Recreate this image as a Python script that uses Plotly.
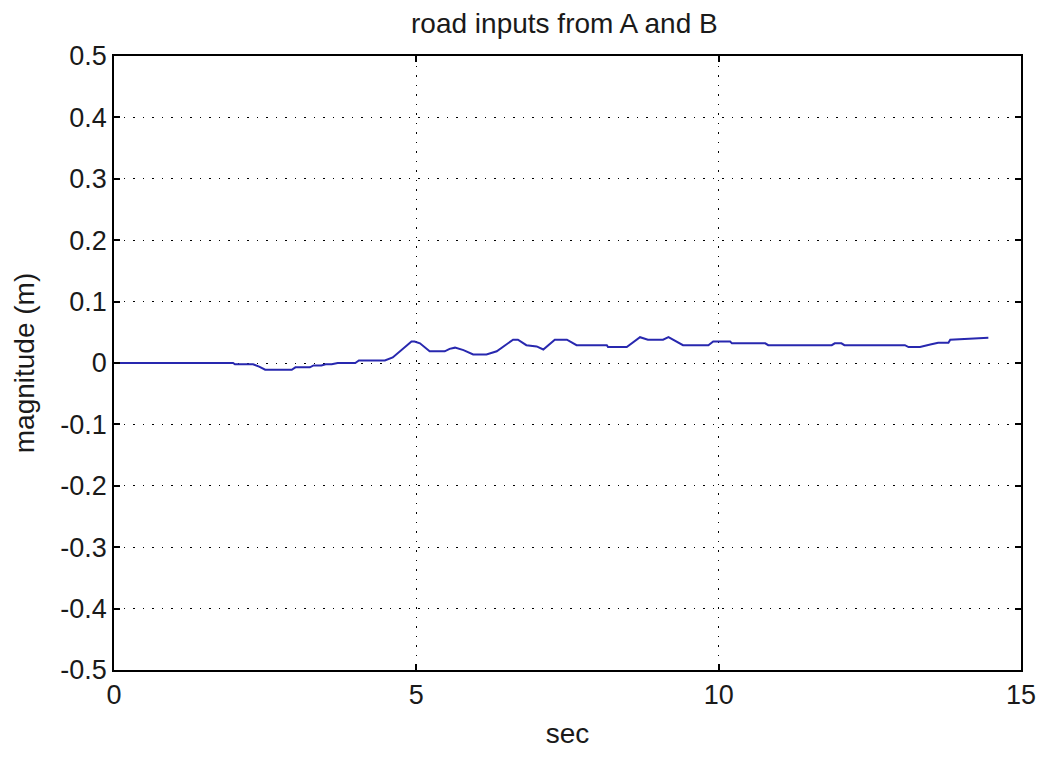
import plotly.graph_objects as go

# road input profile (time in s, vertical displacement in m)
t_sec = [0, 1.97, 2.0, 2.3, 2.4, 2.5, 2.94, 3.0, 3.24, 3.3, 3.43, 3.5, 3.6, 3.7, 3.99,
         4.05, 4.48, 4.61, 4.92, 4.97, 5.06, 5.22, 5.47, 5.55, 5.64, 5.78, 5.94, 6.16,
         6.33, 6.60, 6.68, 6.82, 6.99, 7.10, 7.29, 7.49, 7.65, 8.15, 8.17, 8.48, 8.70,
         8.83, 9.08, 9.17, 9.41, 9.83, 9.91, 10.19, 10.22, 10.77, 10.82, 11.87, 11.92,
         12.03, 12.08, 13.08, 13.14, 13.33, 13.5, 13.63, 13.80, 13.83, 14.46]
magnitude = [0, 0, -0.002, -0.002, -0.006, -0.011, -0.011, -0.007, -0.007, -0.004, -0.004,
             -0.002, -0.002, 0, 0, 0.004, 0.004, 0.009, 0.035, 0.035, 0.032, 0.019, 0.019,
             0.023, 0.025, 0.021, 0.014, 0.014, 0.019, 0.038, 0.038, 0.029, 0.027, 0.022,
             0.038, 0.038, 0.029, 0.029, 0.026, 0.026, 0.042, 0.038, 0.038, 0.042, 0.029,
             0.029, 0.035, 0.035, 0.032, 0.032, 0.029, 0.029, 0.032, 0.032, 0.029, 0.029,
             0.026, 0.026, 0.030, 0.033, 0.033, 0.038, 0.041]

x_ticks = [0, 5, 10, 15]
y_ticks = [0.5, 0.4, 0.3, 0.2, 0.1, 0, -0.1, -0.2, -0.3, -0.4, -0.5]
y_tick_text = ["0.5", "0.4", "0.3", "0.2", "0.1", "0", "-0.1", "-0.2", "-0.3", "-0.4", "-0.5"]

FONT = "Liberation Sans, Arial, sans-serif"
TEXT_COLOR = "#1a1a1a"

fig = go.Figure()
fig.add_trace(go.Scatter(x=t_sec, y=magnitude, mode="lines",
                         line=dict(color="rgb(40,40,175)", width=2),
                         showlegend=False))

axis_common = dict(
    showline=True, linecolor="black", linewidth=1.5, mirror="ticks",
    ticks="inside", ticklen=6, tickwidth=1.5, tickcolor="black",
    showgrid=True, gridcolor="black", gridwidth=1, griddash="1.5px,8px",
    zeroline=False,
    tickfont=dict(family=FONT, size=27, color=TEXT_COLOR),
)

fig.update_layout(
    width=1049, height=758,
    margin=dict(l=114, r=28, t=56, b=88),
    paper_bgcolor="white", plot_bgcolor="white",
    title=dict(text="road inputs from A and B", x=0.538, xanchor="center",
               y=1 - 23 / 758, yanchor="middle", yref="container",
               font=dict(family=FONT, size=28, color=TEXT_COLOR)),
    xaxis=dict(range=[0, 15], tickvals=x_ticks, ticktext=[str(v) for v in x_ticks],
               title=dict(text="sec", font=dict(family=FONT, size=28, color=TEXT_COLOR),
                          standoff=14),
               **axis_common),
    yaxis=dict(range=[-0.5, 0.5], tickvals=y_ticks, ticktext=y_tick_text,
               title=dict(text="magnitude (m)", font=dict(family=FONT, size=28, color=TEXT_COLOR),
                          standoff=18),
               **axis_common),
)

fig.write_html("out.html")
